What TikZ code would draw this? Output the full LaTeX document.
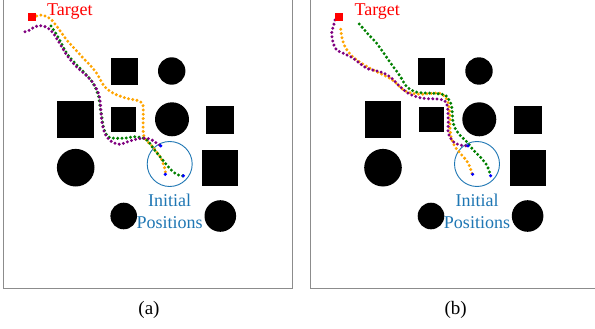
\documentclass[tikz,border=0pt]{standalone}
\usepackage{fontspec}
\setmainfont{Liberation Serif}
\definecolor{tabblue}{RGB}{31,119,180}
\definecolor{trajorange}{RGB}{255,165,0}
\definecolor{trajgreen}{RGB}{0,128,0}
\definecolor{trajpurple}{RGB}{128,0,128}
\tikzset{
  frame/.style={draw=black!45, line width=1pt},
  sqobst/.style={fill=black, inner sep=0pt, outer sep=0pt, draw=none},
  traj/.style={line width=3.3pt, dash pattern=on 0pt off 4.3pt, line cap=round},
  startdot/.style={fill=blue},
  lbl/.style={inner sep=0pt, font=\fontsize{18}{22.3}\selectfont},
  caplbl/.style={inner sep=0pt, font=\fontsize{19}{22}\selectfont},
  scene/.pic={
    \draw[frame] (3.3,-5) rectangle (292.3,288);
    \node[sqobst, minimum size=27pt] (-s1) at (124,71.5) {};
    \node[sqobst, minimum size=36.7pt] (-s2) at (75.7,119.3) {};
    \node[sqobst, minimum size=25pt] (-s3) at (123.8,119.7) {};
    \node[sqobst, minimum size=28pt] (-s4) at (220.3,119.8) {};
    \node[sqobst, minimum size=36pt] (-s5) at (220.3,167.8) {};
    \fill (171.7,71) circle[radius=13.7pt];
    \fill (172,119.3) circle[radius=17pt];
    \fill (75.7,167.7) circle[radius=18.8pt];
    \fill (123.7,216) circle[radius=13.3pt];
    \fill (220.3,216) circle[radius=15.8pt];
    \draw[tabblue, line width=0.9pt] (169.7,164) circle[radius=22.5pt];
    \node[lbl, text=red, anchor=base west] (-tl) at (47,15.7) {Target};
    \node[lbl, text=tabblue, align=center, anchor=center] (-il) at (169.7,211.5) {Initial\\Positions};
  },
  markers/.pic={
    \node[fill=red, inner sep=0pt, minimum size=8pt] (-tg) at (31.7,17.3) {};
    \fill[startdot] (160.7,145.8) circle[radius=1.8pt];
    \fill[startdot] (165.3,174.3) circle[radius=1.8pt];
    \fill[startdot] (183.3,175.8) circle[radius=1.8pt];
  }
}
\begin{document}
\begin{tikzpicture}[x=1pt,y=-1pt]
\useasboundingbox (0,0) rectangle (595,329);
\clip (0,0) rectangle (595,329);
\fill[white] (0,0) rectangle (595,329);
\pic (pa) at (0,0) {scene};
\pic (pb) at (307.3,0) {scene};
% panel (a) trajectories
\draw[traj, trajorange] plot[smooth, tension=0.55] coordinates {(36.7,16) (41.7,15) (46.7,16.7) (51.7,20) (58,28) (66.7,40) (75,49) (83.3,58.3) (90,65) (96.7,73.3) (101,81) (105,87) (113.3,93.3) (126.7,98.3) (138.3,100.7) (142.5,104) (143.3,110) (143.3,133.3) (147,141) (152,146) (156.7,152) (161,158) (163.3,164) (165.3,170) (165.3,174.3)};
\draw[traj, trajgreen] plot[smooth, tension=0.55] coordinates {(51,26) (58,37) (66.7,53.3) (75,63) (83.3,71.7) (90,79) (95,86.7) (98.5,96) (100,106.7) (102,118) (103.3,126.7) (106,134) (110,137.7) (123.3,138.3) (136.7,136.7) (146.7,140) (153.3,148.3) (160,156.7) (168.3,166.7) (175,173.3) (181.7,176) (183.3,175.8)};
\draw[traj, trajpurple] plot[smooth, tension=0.55] coordinates {(25,31.7) (30,30) (35,26.7) (41.7,25.7) (48.3,28.3) (53.3,33.3) (60,44) (66.7,55) (73,63) (80,70) (87,76) (93.3,83.3) (97.5,91) (100,100) (101.7,120) (104,131) (106.7,136.7) (112,142) (120,144.3) (127,142) (133.3,140) (140,138.5) (146.7,138.3) (152,140) (156.7,143.3) (160.7,145.8)};
% panel (b) trajectories
\draw[traj, trajorange] plot[smooth, tension=0.55] coordinates {(340.7,29.3) (342,38) (345,46.7) (350,54) (356.7,60) (366,66) (376.7,71.7) (390,78.3) (397,84) (403.3,90) (411,93) (420,94.3) (430,93.5) (440,93.3) (446,98) (448.3,103.3) (450,115) (450,126.7) (451,136.7) (455,146.7) (463.3,156.7) (468.3,163.3) (472.3,174.3)};
\draw[traj, trajgreen] plot[smooth, tension=0.55] coordinates {(359.3,24) (368,34) (376.7,43.3) (385,55) (393.3,66.7) (400,76) (406.7,86.7) (415,91.7) (425,93) (433.3,93.3) (445,95) (449,100) (451.7,106.7) (453.3,123.3) (458.3,133.3) (466.7,141.7) (473.3,150) (480,156.7) (486.7,165) (489.5,172) (490.3,175.8)};
\draw[traj, trajpurple] plot[smooth, tension=0.55] coordinates {(335,20) (333.3,26.7) (331.7,33.3) (333.3,43.3) (336.7,50) (343.3,53.3) (353.3,58.3) (366.7,68.3) (380,71.7) (390,76.7) (400,86.7) (410,94.3) (423.3,98.3) (440,99.3) (446.7,103.3) (448.3,120) (448.3,133.3) (453.3,141.7) (460,145) (467.7,146)};
\pic (ma) at (0,0) {markers};
\pic (mb) at (307.3,0) {markers};
\node[caplbl] (capa) at (149,310) {(a)};
\node[caplbl] (capb) at (455.7,310) {(b)};
\end{tikzpicture}
\end{document}
